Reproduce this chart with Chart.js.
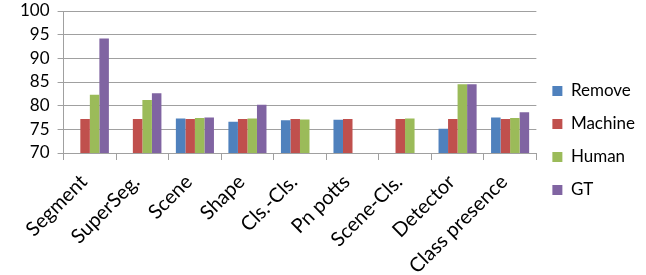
<!DOCTYPE html>
<html>
<head>
<meta charset="utf-8">
<script src="https://cdn.jsdelivr.net/npm/chart.js@4/dist/chart.umd.min.js"></script>
<style>
  html, body { margin: 0; padding: 0; background: #fff; }
  #wrap { width: 646px; height: 275px; }
</style>
</head>
<body>
<div id="wrap"><canvas id="chart" width="646" height="275"></canvas></div>
<script>
// categories and series
const categories = ['Segment', 'SuperSeg.', 'Scene', 'Shape', 'Cls.-Cls.', 'Pn potts', 'Scene-Cls.', 'Detector', 'Class presence'];
const removeVals  = [null, null, 77.3, 76.6, 76.9, 77.0, null, 75.1, 77.5];
const machineVals = [77.2, 77.2, 77.2, 77.2, 77.2, 77.2, 77.2, 77.2, 77.2];
const humanVals   = [82.3, 81.2, 77.4, 77.3, 77.1, null, 77.3, 84.5, 77.4];
const gtVals      = [94.2, 82.6, 77.5, 80.2, null, null, null, 84.5, 78.6];
const yTicks = [70, 75, 80, 85, 90, 95, 100];

const gridColor = '#a0a0a0';
const textColor = '#000';
const fontFamily = 'Lato, "Open Sans", sans-serif';

function series(label, data, color) {
    return { label: label, data: data, backgroundColor: color, borderWidth: 0 };
}

new Chart(document.getElementById('chart').getContext('2d'), {
    type: 'bar',
    data: {
        labels: categories,
        datasets: [
            series('Remove', removeVals, '#4F81BD'),
            series('Machine', machineVals, '#C0504D'),
            series('Human', humanVals, '#9BBB59'),
            series('GT', gtVals, '#8064A2')
        ]
    },
    options: {
        responsive: false,
        animation: false,
        categoryPercentage: 0.725,
        barPercentage: 1.0,
        layout: { padding: { left: 12, top: 6, right: 1, bottom: 0 } },
        plugins: {
            tooltip: { enabled: false },
            legend: {
                position: 'right',
                labels: {
                    boxWidth: 10,
                    boxHeight: 10,
                    padding: 16,
                    color: textColor,
                    font: { family: fontFamily, size: 17 }
                }
            }
        },
        scales: {
            x: {
                grid: { offset: true, drawOnChartArea: false, drawTicks: true, tickLength: 7, color: gridColor },
                border: { color: gridColor },
                ticks: {
                    color: textColor,
                    font: { family: fontFamily, size: 20 },
                    maxRotation: 45,
                    minRotation: 45,
                    padding: 10,
                    labelOffset: -6,
                    autoSkip: false
                },
                afterFit: function (scale) {
                    scale.height = 122;
                    scale.paddingRight = 9;
                }
            },
            y: {
                min: 70,
                max: 100,
                afterBuildTicks: function (axis) {
                    axis.ticks = yTicks.map(v => ({ value: v }));
                },
                afterFit: function (scale) {
                    scale.paddingTop = 11;
                },
                grid: { color: gridColor, tickLength: 6 },
                border: { color: gridColor },
                ticks: {
                    color: textColor,
                    font: { family: fontFamily, size: 17 },
                    padding: 8
                }
            }
        }
    }
});
</script>
</body>
</html>
